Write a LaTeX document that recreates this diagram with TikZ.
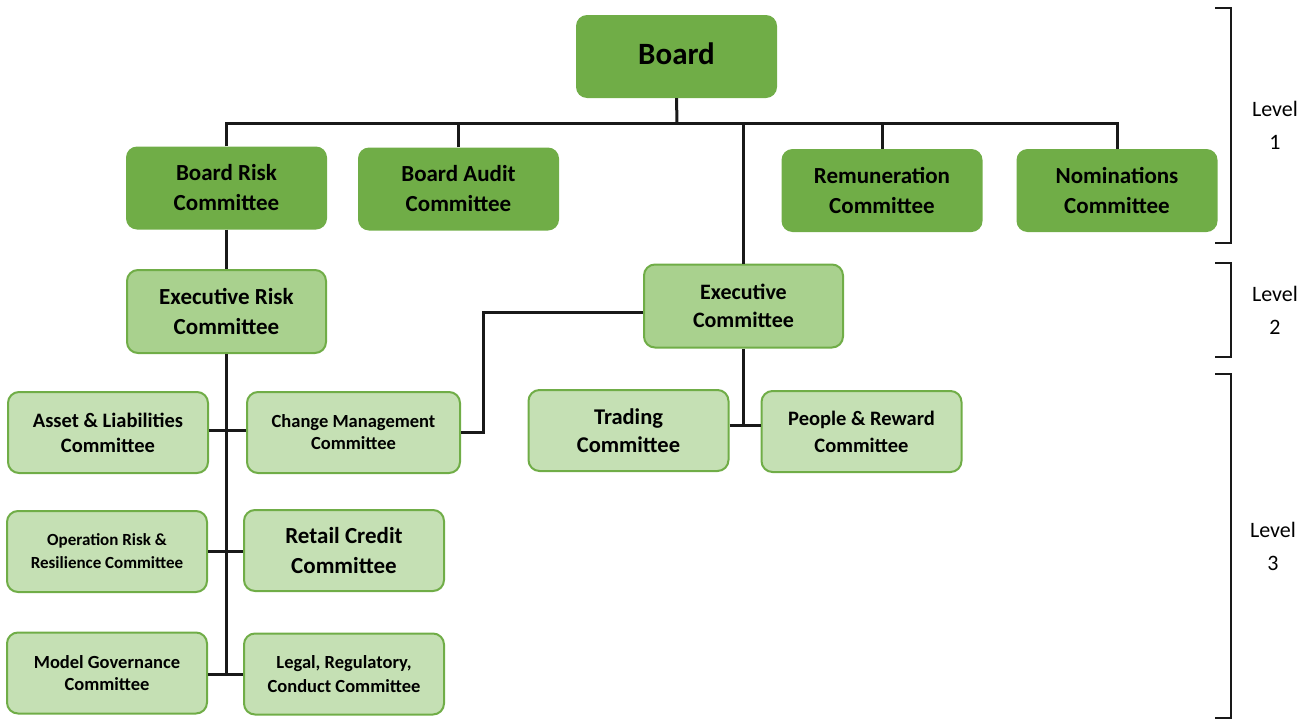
\documentclass[tikz,border=0pt]{standalone}
\usepackage{fontspec}
\setmainfont{Carlito}

\definecolor{boardgreen}{HTML}{70AD47}
\definecolor{execgreen}{HTML}{A9D18E}
\definecolor{subgreen}{HTML}{C5E0B4}

\tikzset{
  boardbox/.style={fill=boardgreen, rounded corners=11pt, align=center,
    minimum width=201pt, minimum height=83pt, inner sep=0pt,
    font=\bfseries\fontsize{23}{30}\selectfont},
  execbox/.style={boardbox, fill=execgreen, draw=boardgreen, line width=2pt,
    minimum width=199pt},
  subbox/.style={execbox, fill=subgreen, minimum width=200pt, minimum height=81pt},
  link/.style={line width=3pt, black!90},
  bracket/.style={line width=2pt, black!90},
  levellabel/.style={align=center, font=\fontsize{22}{33}\selectfont}
}

\begin{document}
\begin{tikzpicture}[x=1pt,y=-1pt]

  \useasboundingbox (0,0) rectangle (1313,720);

  % level 1
  \node (board) at (676.5,56.5) [boardbox,font=\bfseries\fontsize{31}{36}\selectfont] {\raisebox{6pt}{Board}};
  \node (brc)   at (226.5,188)  [boardbox] {Board Risk\\Committee};
  \node (audit) at (458.5,189)  [boardbox] {Board Audit\\Committee};
  \node (rem)   at (882,190.5)  [boardbox] {Remuneration\\Committee};
  \node (nom)   at (1117,190.5) [boardbox] {Nominations\\Committee};

  % level 2
  \node (erc) at (226.5,311.5) [execbox] {Executive Risk\\Committee};
  \node (ec)  at (743.5,306)   [execbox,font=\bfseries\fontsize{22}{28}\selectfont] {Executive\\Committee};

  % level 3
  \node (asset)   at (108,432.5)   [subbox,font=\bfseries\fontsize{20.5}{25}\selectfont] {Asset \& Liabilities\\Committee};
  \node (change)  at (353.5,432.5) [subbox,minimum width=213pt,font=\bfseries\fontsize{18.5}{22}\selectfont] {Change Management\\Committee};
  \node (oprisk)  at (107,551.5)   [subbox,font=\bfseries\fontsize{17}{23}\selectfont] {Operation Risk \&\\Resilience Committee};
  \node (retail)  at (344,550.5)   [subbox,font=\bfseries\fontsize{23}{30}\selectfont] {Retail Credit\\Committee};
  \node (model)   at (107,673)     [subbox,font=\bfseries\fontsize{18.5}{22}\selectfont] {Model Governance\\Committee};
  \node (legal)   at (344,674)     [subbox,font=\bfseries\fontsize{18.5}{24}\selectfont] {Legal, Regulatory,\\Conduct Committee};
  \node (trading) at (628.5,430.5) [subbox,font=\bfseries\fontsize{22.5}{28}\selectfont] {Trading\\Committee};
  \node (people)  at (861.5,431.5) [subbox,font=\bfseries\fontsize{20.5}{27}\selectfont] {People \& Reward\\Committee};

  % board links
  \coordinate (bar) at (677,123);
  \draw[link] (board.south) -- (bar);
  \draw[link] (brc.north) -- (brc.north |- bar) -- (nom.north |- bar) -- (nom.north);
  \draw[link] (audit.north) -- (audit.north |- bar);
  \draw[link] (rem.north) -- (rem.north |- bar);
  \draw[link] (ec.north) -- (ec.north |- bar);
  \draw[link] (brc.south) -- (erc.north);

  % executive risk links
  \draw[link] (erc.south) -- (erc.south |- legal.west);
  \draw[link] ([yshift=2pt]asset.east) -- ([yshift=2pt]asset.east -| change.west);
  \draw[link] (oprisk.east) -- (oprisk.east -| retail.west);
  \draw[link] (legal.west -| model.east) -- (legal.west);

  % executive committee links
  \coordinate (ecbend) at (483,370);
  \draw[link] ([yshift=-6pt]ec.west) -| (ecbend) |- (change.east);
  \draw[link] (ec.south) -- ([yshift=5pt]ec.south |- trading.east);
  \draw[link] ([yshift=5pt]trading.east) -- ([yshift=5pt]trading.east -| people.west);

  % level brackets
  \draw[bracket] (1215,8) -- (1231,8) -- (1231,243) -- (1215,243);
  \draw[bracket] (1215,263) -- (1231,263) -- (1231,357) -- (1215,357);
  \draw[bracket] (1215,374) -- (1231,374) -- (1231,718) -- (1215,718);
  \node (lvl1) at (1275,125) [levellabel] {Level\\1};
  \node (lvl2) at (1275,310) [levellabel] {Level\\2};
  \node (lvl3) at (1273,546) [levellabel] {Level\\3};

\end{tikzpicture}
\end{document}
